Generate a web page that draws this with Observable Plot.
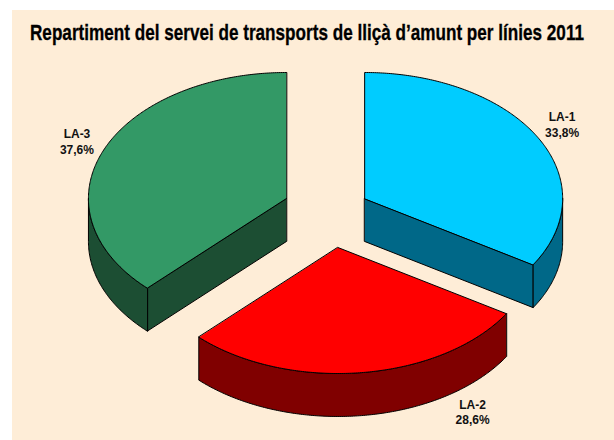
<!DOCTYPE html>
<html>
<head>
<meta charset="utf-8">
<script src="https://cdn.jsdelivr.net/npm/d3@7"></script>
<script src="https://cdn.jsdelivr.net/npm/@observablehq/plot@0.6"></script>
<style>
  html, body { margin: 0; padding: 0; background: #fff; overflow: hidden; }
  #panel { position: absolute; left: 12px; top: 10px; width: 602px; height: 430px; background: #feedd7; overflow: hidden; }
  #titlebar { height: 44px; position: relative; }
  #title { position: absolute; left: 18px; top: 1px; white-space: nowrap; color: #000; transform-origin: 0 0;
           font: bold 22px/44px "Liberation Sans", sans-serif; -webkit-text-stroke: 0.3px #000; }
  #chart svg { display: block; }
</style>
</head>
<body>
<div id="panel">
  <div id="titlebar"><span id="title">Repartiment del servei de transports de lliçà d’amunt per línies 2011</span></div>
  <div id="chart"></div>
</div>
<script>
const lines = ["LA-1", "LA-2", "LA-3"];
const shares = [33.8, 28.6, 37.6];
const shareLabels = ["33,8%", "28,6%", "37,6%"];
const topColors = ["#00ccff", "#ff0000", "#339966"];
const sideColors = ["#006888", "#800000", "#1c4e33"];

// Layout, in units of the pie radius
const explodeX = [0.199, 0.064, -0.196];
const explodeY = [-0.127, 0.262, -0.127];
const labelDX = [0.997, 0.68, -1.058];
const labelDY = [-0.59, 1.30, -0.454];
const depth = 0.341;

const title = document.getElementById("title");
title.style.transform = `scaleX(${554 / title.getBoundingClientRect().width})`;

const total = d3.sum(shares);
const ends = d3.cumsum(shares).map(v => v / total * 2 * Math.PI);
const starts = ends.map((_, i) => (i ? ends[i - 1] : 0));

const rim = (a, i, dz = 0) => ({
  x: explodeX[i] + Math.sin(a),
  y: explodeY[i] - Math.cos(a) + dz
});
const apex = (i, dz = 0) => ({ x: explodeX[i], y: explodeY[i] + dz });
const sweep = (a0, a1) => {
  const n = Math.max(2, Math.ceil(Math.abs(a1 - a0) / 0.01));
  return d3.range(n + 1).map(k => a0 + (a1 - a0) * k / n);
};
const face = (pts, fill) =>
  Plot.line(pts, { x: "x", y: "y", fill, stroke: "#000", strokeWidth: 1, curve: "linear-closed", strokeLinejoin: "round" });

const marks = lines.flatMap((_, i) => {
  const a0 = starts[i], a1 = ends[i];
  const out = [];
  // radial cut faces that look towards the viewer
  if (Math.cos(a1) < 0 && Math.sin(a1) > 0)
    out.push(face([apex(i), rim(a1, i), rim(a1, i, depth), apex(i, depth)], sideColors[i]));
  if (Math.cos(a0) < 0 && Math.sin(a0) < 0)
    out.push(face([apex(i), rim(a0, i), rim(a0, i, depth), apex(i, depth)], sideColors[i]));
  // outer wall: the part of the rim on the front half
  const w0 = Math.max(a0, Math.PI / 2), w1 = Math.min(a1, 3 * Math.PI / 2);
  if (w1 > w0) {
    const s = sweep(w0, w1);
    out.push(face([...s.map(a => rim(a, i)), ...s.reverse().map(a => rim(a, i, depth))], sideColors[i]));
  }
  // top
  out.push(face([apex(i), ...sweep(a0, a1).map(a => rim(a, i))], topColors[i]));
  return out;
});

const labels = lines.map((name, i) => ({
  x: explodeX[i] + labelDX[i],
  y: explodeY[i] + labelDY[i],
  text: `${name}\n${shareLabels[i]}`
}));

const cx = 324.75 - 12, cy = 214 - 54, rx = 198, ry = 126;
const chart = Plot.plot({
  width: 602, height: 386,
  margin: 0,
  style: { background: "transparent", overflow: "visible" },
  x: { axis: null, domain: [-1, 1], range: [cx - rx, cx + rx] },
  y: { axis: null, domain: [-1, 1], range: [cy - ry, cy + ry] },
  marks: [
    ...marks,
    Plot.text(labels, { x: "x", y: "y", text: "text", fontSize: 12, fontWeight: "bold",
      fontFamily: "Liberation Sans", fill: "#111", lineHeight: 1.3 })
  ]
});
document.getElementById("chart").appendChild(chart);
</script>
</body>
</html>
